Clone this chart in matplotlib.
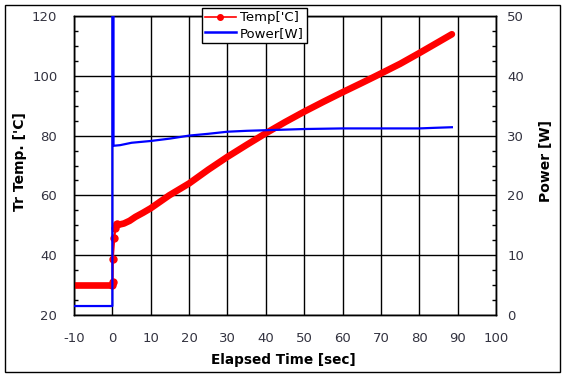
import matplotlib
matplotlib.use("Agg")
import matplotlib.pyplot as plt
from matplotlib.lines import Line2D
from matplotlib.patches import Rectangle
from matplotlib.ticker import MultipleLocator

plt.rcParams["axes.unicode_minus"] = False

# Temperature trace (sec, 'C)
temp_t = [-10, 0, 0.05, 0.1, 0.5, 0.8, 1.1, 2, 3, 4.5, 6, 8, 10, 14.8, 20, 25,
          30, 35, 40, 45, 50, 55, 60, 65, 68.8, 75, 80, 85, 88.5]
temp_v = [30, 30, 31, 38.6, 45.7, 49, 50.4, 50.3, 50.6, 51.5, 52.8, 54.2, 55.7,
          60, 64, 68.6, 72.9, 76.9, 80.8, 84.5, 88, 91.3, 94.5, 97.6, 100, 104,
          107.6, 111.3, 113.9]

# Power trace (sec, W)
power_t = [-10, 0, 0, 0.3, 0.3, 2, 5, 10, 15, 20, 25, 30, 35, 40, 50, 60, 70,
           80, 84, 88.5]
power_v = [1.5, 1.5, 60, 60, 28.3, 28.4, 28.8, 29.1, 29.5, 30.0, 30.3, 30.65,
           30.8, 30.9, 31.1, 31.2, 31.2, 31.2, 31.3, 31.4]

red = "#ff0000"
blue = "#0000ff"
tick_col = "#333340"
font = "DejaVu Sans"

fig = plt.figure(figsize=(5.67, 3.79), dpi=100)
ax = fig.add_axes([74 / 567, 1 - 315 / 379, 422 / 567, 299 / 379])
ax2 = ax.twinx()

# temperature: thick dense parts, thin transition with markers
ax.plot(temp_t, temp_v, color=red, lw=1.5, zorder=3)
ax.plot(temp_t[:2], temp_v[:2], color=red, lw=4.8, solid_capstyle="round", zorder=3)
ax.plot(temp_t[6:], temp_v[6:], color=red, lw=4.8, solid_capstyle="round", zorder=3)
ax.plot(temp_t[1:7], temp_v[1:7], "o", color=red, ms=5, zorder=3)

ax2.plot(power_t, power_v, color=blue, lw=1.6, zorder=3)

ax.set_xlim(-10, 100)
ax.set_ylim(20, 120)
ax2.set_ylim(0, 50)
ax.xaxis.set_major_locator(MultipleLocator(10))
ax.yaxis.set_major_locator(MultipleLocator(20))
ax.yaxis.set_minor_locator(MultipleLocator(5))
ax2.yaxis.set_major_locator(MultipleLocator(10))
ax2.yaxis.set_minor_locator(MultipleLocator(2.5))

ax.grid(True, which="major", color="black", lw=1)
ax.set_axisbelow(True)

ax.tick_params(axis="x", length=0, pad=12, labelsize=9.5, labelcolor=tick_col)
ax.tick_params(axis="y", which="major", length=0, pad=12, labelsize=9.5, labelcolor=tick_col)
ax.tick_params(axis="y", which="minor", direction="in", length=3, width=1)
ax2.tick_params(axis="y", which="major", length=0, pad=8, labelsize=9.5, labelcolor=tick_col)
ax2.tick_params(axis="y", which="minor", direction="in", length=3, width=1)

for a in (ax, ax2):
    for sp in a.spines.values():
        sp.set_linewidth(1)
        sp.set_color("black")

ax.set_xlabel("Elapsed Time [sec]", fontsize=9.8, fontweight="bold", family=font)
ax.set_ylabel("Tr Temp. ['C]", fontsize=10, fontweight="bold", family=font)
ax2.set_ylabel("Power [W]", fontsize=10, fontweight="bold", family=font)
ax.xaxis.label.set_va("center")
ax.yaxis.label.set_va("center")
ax2.yaxis.label.set_va("center")
ax.xaxis.set_label_coords(0.497, -0.15)
ax.yaxis.set_label_coords(-0.129, 0.513)
ax2.yaxis.set_label_coords(1.118, 0.515)

# legend
handles = [Line2D([], [], color=red, lw=1.2, marker="o", ms=4),
           Line2D([], [], color=blue, lw=1.8)]
leg = fig.legend(handles, ["Temp['C]", "Power[W]"], loc="upper left",
                 bbox_to_anchor=(202 / 567, 1 - 8 / 379), fontsize=9.5,
                 frameon=True, fancybox=False, framealpha=1, edgecolor="black",
                 handlelength=2.3, handletextpad=0.3, borderpad=0.25,
                 labelspacing=0.2, borderaxespad=0)
leg.get_frame().set_linewidth(1)
leg.set_zorder(10)

# outer frame
fig.patches.append(Rectangle((5 / 567, 1 - 372 / 379), 555 / 567, 367 / 379,
                             transform=fig.transFigure, fill=False,
                             edgecolor="black", lw=1))

fig.savefig("out.png", dpi=100)
